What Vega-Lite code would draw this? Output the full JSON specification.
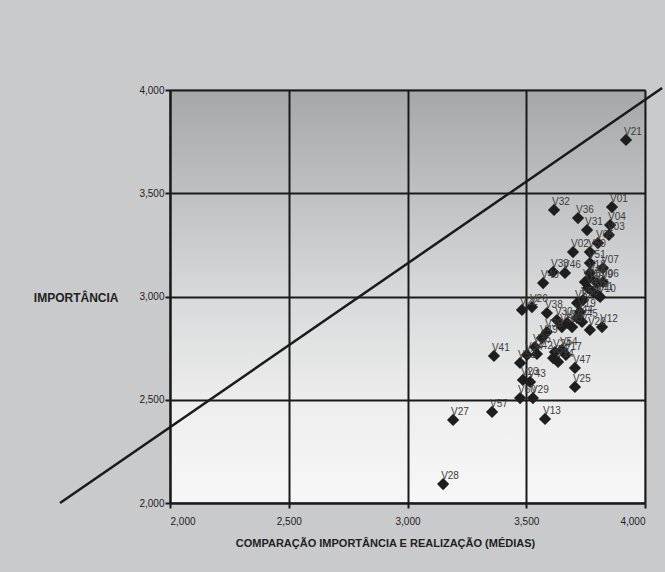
{
  "$schema": "https://vega.github.io/schema/vega-lite/v6.json",
  "width": 475,
  "height": 413,
  "autosize": "none",
  "padding": {"left": 170, "top": 90, "right": 20, "bottom": 69},
  "background": "#c9cacc",
  "config": {
    "view": {
      "fill": {"gradient": "linear", "x1": 0, "y1": 0, "x2": 0, "y2": 1,
        "stops": [{"offset": 0, "color": "#a6a7a9"}, {"offset": 0.5, "color": "#d8d9da"}, {"offset": 0.78, "color": "#efefef"}, {"offset": 1, "color": "#f7f7f7"}]},
      "stroke": "#8a8a8a",
      "strokeWidth": 1.5
    },
    "axis": {
      "domainColor": "#1a1a1a", "domainWidth": 2,
      "tickColor": "#1a1a1a", "tickWidth": 2, "tickSize": 5,
      "gridColor": "#1a1a1a", "gridWidth": 2, "gridOpacity": 1,
      "labelFont": "Liberation Sans", "labelFontSize": 10, "labelColor": "#222222",
      "titleFont": "Liberation Sans", "titleFontSize": 11, "titleFontWeight": "bold", "titleColor": "#222222"
    }
  },
  "layer": [
    {
      "data": {"values": [{"x": 1.537, "y": 2.0}, {"x": 4.072, "y": 4.01}]},
      "mark": {"type": "line", "clip": false, "color": "#1a1a1a", "strokeWidth": 2.5},
      "encoding": {
        "x": {"field": "x", "type": "quantitative",
          "scale": {"domain": [2, 4], "nice": false, "zero": false},
          "axis": {"values": [2, 2.5, 3, 3.5, 4], "labelExpr": "replace(format(datum.value, '.3f'), '.', ',')", "labelPadding": 8,
            "title": "COMPARAÇÃO IMPORTÂNCIA E REALIZAÇÃO (MÉDIAS)", "titleX": 215, "titleY": 40, "titleBaseline": "middle", "titleAlign": "center"}},
        "y": {"field": "y", "type": "quantitative",
          "scale": {"domain": [2, 4], "nice": false, "zero": false},
          "axis": {"values": [2, 2.5, 3, 3.5, 4], "labelExpr": "replace(format(datum.value, '.3f'), '.', ',')", "labelPadding": 1,
            "title": "IMPORTÂNCIA", "titleFontSize": 12, "titleAngle": 0, "titleAlign": "right", "titleBaseline": "middle", "titleX": -52, "titleY": 207}}
      }
    },
    {
      "data": {"name": "pts", "values": [
        {"v": "V21", "x": 3.920, "y": 3.758},
        {"v": "V32", "x": 3.617, "y": 3.419},
        {"v": "V36", "x": 3.718, "y": 3.380},
        {"v": "V01", "x": 3.861, "y": 3.433},
        {"v": "V31", "x": 3.756, "y": 3.322},
        {"v": "V04", "x": 3.853, "y": 3.346},
        {"v": "V03", "x": 3.848, "y": 3.298},
        {"v": "V05", "x": 3.802, "y": 3.259},
        {"v": "V50", "x": 3.768, "y": 3.215},
        {"v": "V02", "x": 3.697, "y": 3.215},
        {"v": "V51", "x": 3.768, "y": 3.162},
        {"v": "V07", "x": 3.823, "y": 3.138},
        {"v": "V33", "x": 3.613, "y": 3.119},
        {"v": "V46", "x": 3.663, "y": 3.114},
        {"v": "V40", "x": 3.571, "y": 3.065},
        {"v": "V18", "x": 3.768, "y": 3.114},
        {"v": "V06", "x": 3.823, "y": 3.070},
        {"v": "V08", "x": 3.747, "y": 3.070},
        {"v": "V48", "x": 3.768, "y": 3.090},
        {"v": "V09", "x": 3.798, "y": 3.065},
        {"v": "V11", "x": 3.802, "y": 3.007},
        {"v": "V16", "x": 3.760, "y": 3.041},
        {"v": "V15", "x": 3.781, "y": 3.022},
        {"v": "V26", "x": 3.524, "y": 2.949},
        {"v": "V10", "x": 3.811, "y": 2.998},
        {"v": "V52", "x": 3.714, "y": 2.969},
        {"v": "V58", "x": 3.739, "y": 2.983},
        {"v": "V22", "x": 3.482, "y": 2.935},
        {"v": "V38", "x": 3.587, "y": 2.920},
        {"v": "V19", "x": 3.726, "y": 2.925},
        {"v": "V30", "x": 3.629, "y": 2.886},
        {"v": "V56", "x": 3.672, "y": 2.872},
        {"v": "V44", "x": 3.714, "y": 2.896},
        {"v": "V37", "x": 3.693, "y": 2.852},
        {"v": "V59", "x": 3.650, "y": 2.852},
        {"v": "V45", "x": 3.735, "y": 2.877},
        {"v": "V12", "x": 3.819, "y": 2.852},
        {"v": "V20", "x": 3.768, "y": 2.838},
        {"v": "V39", "x": 3.587, "y": 2.828},
        {"v": "V49", "x": 3.566, "y": 2.799},
        {"v": "V35", "x": 3.537, "y": 2.755},
        {"v": "V24", "x": 3.621, "y": 2.731},
        {"v": "V54", "x": 3.650, "y": 2.741},
        {"v": "V17", "x": 3.667, "y": 2.717},
        {"v": "V41", "x": 3.364, "y": 2.712},
        {"v": "V34", "x": 3.503, "y": 2.717},
        {"v": "V42", "x": 3.545, "y": 2.722},
        {"v": "V53", "x": 3.474, "y": 2.678},
        {"v": "V47", "x": 3.705, "y": 2.654},
        {"v": "V55", "x": 3.613, "y": 2.702},
        {"v": "V14", "x": 3.634, "y": 2.683},
        {"v": "V23", "x": 3.486, "y": 2.596},
        {"v": "V43", "x": 3.516, "y": 2.586},
        {"v": "V60", "x": 3.474, "y": 2.508},
        {"v": "V29", "x": 3.528, "y": 2.508},
        {"v": "V25", "x": 3.705, "y": 2.562},
        {"v": "V13", "x": 3.579, "y": 2.407},
        {"v": "V57", "x": 3.356, "y": 2.441},
        {"v": "V27", "x": 3.192, "y": 2.402},
        {"v": "V28", "x": 3.150, "y": 2.092}
      ]},
      "layer": [
        {
          "mark": {"type": "point", "shape": "diamond", "filled": true, "size": 150, "color": "#1e1e1e", "opacity": 1},
          "encoding": {
            "x": {"field": "x", "type": "quantitative"},
            "y": {"field": "y", "type": "quantitative"}
          }
        },
        {
          "mark": {"type": "text", "align": "left", "baseline": "alphabetic", "dx": -2, "dy": -5, "font": "Liberation Sans", "fontSize": 10, "color": "#3c3c3c"},
          "encoding": {
            "x": {"field": "x", "type": "quantitative"},
            "y": {"field": "y", "type": "quantitative"},
            "text": {"field": "v"}
          }
        }
      ]
    }
  ]
}
